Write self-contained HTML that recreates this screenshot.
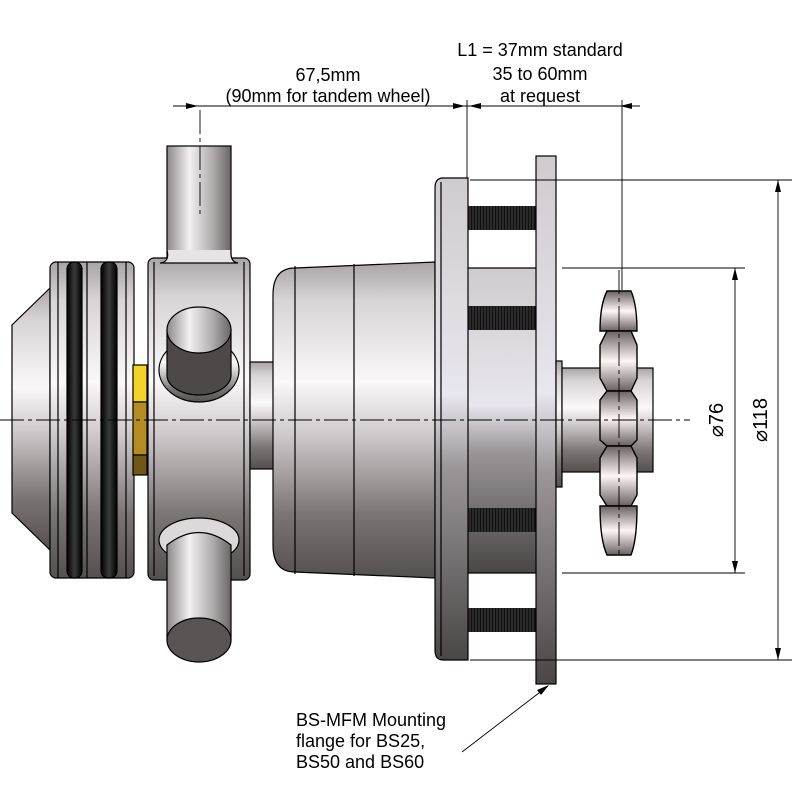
<!DOCTYPE html>
<html><head><meta charset="utf-8"><style>html,body{margin:0;padding:0;background:#fff}svg{display:block}</style></head>
<body>
<svg width="800" height="800" viewBox="0 0 800 800" xmlns="http://www.w3.org/2000/svg" font-family="'Liberation Sans', sans-serif">
<defs>
<linearGradient id="g" x1="0" y1="0" x2="0" y2="1">
<stop offset="0" stop-color="#a9a5a6"/><stop offset="0.12" stop-color="#d8d4d6"/><stop offset="0.38" stop-color="#fbf8fa"/><stop offset="0.55" stop-color="#cfc8ca"/><stop offset="0.8" stop-color="#7b7475"/><stop offset="1" stop-color="#555050"/>
</linearGradient>
<linearGradient id="gh" x1="0" y1="0" x2="1" y2="0">
<stop offset="0" stop-color="#8d8889"/><stop offset="0.35" stop-color="#f4f0f2"/><stop offset="0.7" stop-color="#b3aeaf"/><stop offset="1" stop-color="#6b6566"/>
</linearGradient>
<linearGradient id="gd" x1="0" y1="0" x2="0" y2="1">
<stop offset="0" stop-color="#cfcbce"/><stop offset="0.45" stop-color="#e8e6ee"/><stop offset="0.6" stop-color="#9c9698"/><stop offset="1" stop-color="#4a4646"/>
</linearGradient>
<linearGradient id="gt" x1="0" y1="0" x2="0" y2="1">
<stop offset="0" stop-color="#6a6262"/><stop offset="0.5" stop-color="#fdf5f6"/><stop offset="1" stop-color="#6a6262"/>
</linearGradient>
<linearGradient id="ring" x1="0" y1="0" x2="1" y2="0">
<stop offset="0" stop-color="#000"/><stop offset="0.5" stop-color="#3a3a3a"/><stop offset="1" stop-color="#000"/>
</linearGradient>
<pattern id="thr" width="3" height="20" patternUnits="userSpaceOnUse"><rect width="3" height="20" fill="#111"/><rect x="1.5" width="1" height="20" fill="#444"/></pattern>
</defs>
<g stroke="#000" stroke-width="1.2">
<polygon points="50,288 12,325 12,513 50,550" fill="url(#g)"/>
<rect x="50" y="262" width="84" height="316" rx="6" fill="url(#g)"/>
<line x1="58" y1="262" x2="58" y2="578"/><line x1="126" y1="262" x2="126" y2="578"/>
<rect x="67" y="262" width="15" height="316" rx="7" fill="url(#ring)"/>
<rect x="101" y="262" width="16" height="316" rx="7" fill="url(#ring)"/>
<line x1="87" y1="262" x2="87" y2="578"/>
<rect x="133" y="365" width="14" height="37" fill="#f3d22a"/>
<rect x="133" y="402" width="14" height="53" fill="#b48c22"/>
<rect x="133" y="455" width="14" height="20" fill="#6e5718"/>
<rect x="167" y="146" width="64" height="115" fill="url(#gh)"/>
<rect x="148" y="258" width="102" height="322" rx="6" fill="url(#g)"/>
<line x1="154" y1="262" x2="154" y2="576"/><line x1="244" y1="262" x2="244" y2="576"/>
<path d="M167,250 Q170,262 160,263 L238,263 Q230,262 231,250" fill="#e8e4e6"/>
<ellipse cx="199" cy="370" rx="40" ry="32" fill="url(#g)"/>
<path d="M167,330 L167,375 A32,20 0 0 0 231,375 L231,330 Z" fill="#4e4848"/>
<ellipse cx="199" cy="330" rx="32" ry="23" fill="url(#gh)"/>
<ellipse cx="199" cy="540" rx="40" ry="22" fill="#ddd8da"/>
<path d="M167,545 Q199,520 231,545 L231,640 L167,640 Z" fill="url(#gh)"/>
<ellipse cx="199" cy="640" rx="32" ry="22" fill="#5a5353"/>
<rect x="250" y="362" width="25" height="107" fill="url(#g)"/>
<path d="M295,268 L435,262 L435,578 L295,572 Q273,572 273,545 L273,295 Q273,268 295,268 Z" fill="url(#g)"/>
<line x1="295" y1="266" x2="295" y2="574"/><line x1="354" y1="264" x2="354" y2="576"/>
<rect x="468" y="268" width="70" height="305" fill="url(#gd)" stroke="none"/>
<line x1="468" y1="268" x2="538" y2="268"/><line x1="468" y1="573" x2="538" y2="573"/>
<path d="M443,178 L468,178 L468,660 L443,660 Q435,660 435,650 L435,188 Q435,178 443,178 Z" fill="url(#gd)"/>
<line x1="441" y1="182" x2="441" y2="656"/>
<rect x="468" y="206" width="70" height="24" fill="url(#thr)" stroke="none"/>
<rect x="468" y="306" width="70" height="24" fill="url(#thr)" stroke="none"/>
<rect x="468" y="508" width="70" height="24" fill="url(#thr)" stroke="none"/>
<rect x="468" y="608" width="70" height="24" fill="url(#thr)" stroke="none"/>
<rect x="536" y="156" width="20" height="528" fill="url(#gd)"/>
<rect x="556" y="361" width="6" height="126" fill="url(#g)"/>
<rect x="562" y="368" width="91" height="104" fill="url(#g)"/>
<g fill="url(#gt)" stroke-width="1.4">
<path d="M607,291 L631,291 Q637,305 637,331 L600,331 Q600,305 607,291 Z"/>
<path d="M607,331 L631,331 L637,345 L637,378 L631,391 L607,391 L600,378 L600,345 Z"/>
<path d="M607,391 L631,391 L637,400 L637,440 L631,446 L607,446 L600,440 L600,400 Z"/>
<path d="M607,446 L631,446 L637,458 L637,495 L631,506 L607,506 L600,495 L600,458 Z"/>
<path d="M600,506 L637,506 Q637,540 631,555 L607,555 Q600,540 600,506 Z"/>
</g>
</g>
<g stroke="#000" stroke-width="0.9" fill="none" stroke-dasharray="24,4,4,4">
<line x1="0" y1="420" x2="690" y2="420"/>
<line x1="200" y1="110" x2="200" y2="215"/>
<line x1="619" y1="270" x2="619" y2="555"/>
</g>
<g stroke="#000" stroke-width="0.9" fill="none">
<line x1="173" y1="106" x2="640" y2="106"/>
<line x1="467" y1="100" x2="467" y2="178"/>
<line x1="622" y1="100" x2="622" y2="290"/>
<line x1="470" y1="180" x2="792" y2="180"/><line x1="470" y1="660" x2="792" y2="660"/>
<line x1="562" y1="268" x2="745" y2="268"/><line x1="562" y1="573" x2="745" y2="573"/>
<line x1="735" y1="268" x2="735" y2="573"/>
<line x1="778" y1="180" x2="778" y2="660"/>
<line x1="462" y1="752" x2="548" y2="686"/>
</g>
<g fill="#000">
<polygon points="198,106 186,103 186,109"/>
<polygon points="465,106 453,103 453,109"/>
<polygon points="469,106 481,103 481,109"/>
<polygon points="620,106 632,103 632,109"/>
<polygon points="735,268 732,280 738,280"/><polygon points="735,573 732,561 738,561"/>
<polygon points="778,180 775,192 781,192"/><polygon points="778,660 775,648 781,648"/>
<polygon points="549,685 537,690 541,695"/>
</g>
<g font-size="18" fill="#000" text-anchor="middle">
<text x="328" y="81">67,5mm</text>
<text x="328" y="102">(90mm for tandem wheel)</text>
<text x="540" y="56">L1 = 37mm standard</text>
<text x="540" y="80">35 to 60mm</text>
<text x="540" y="102">at request</text>
<text transform="translate(723,420) rotate(-90)" font-size="20">⌀76</text>
<text transform="translate(767,420) rotate(-90)" font-size="20">⌀118</text>
</g>
<g font-size="18" fill="#000">
<text x="296" y="726">BS-MFM Mounting</text>
<text x="296" y="747">flange for BS25,</text>
<text x="296" y="768">BS50 and BS60</text>
</g>
</svg>
</body></html>
